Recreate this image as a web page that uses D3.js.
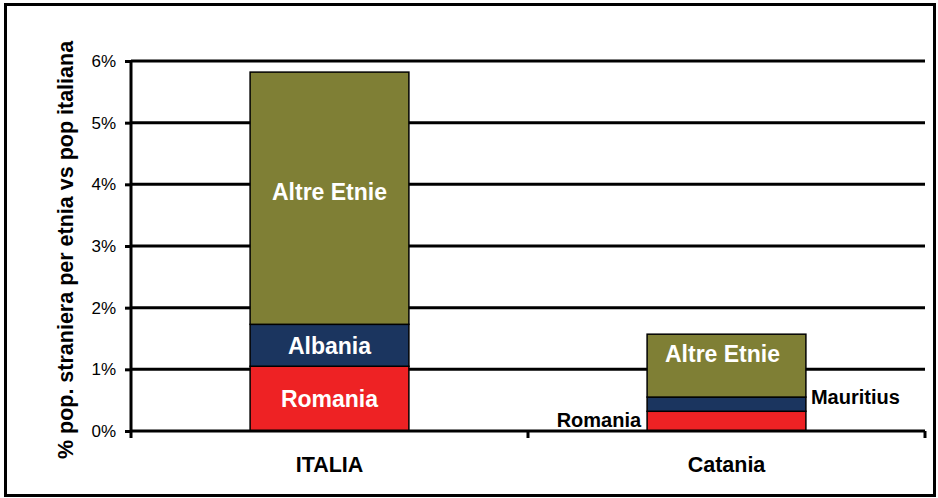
<!DOCTYPE html>
<html>
<head>
<meta charset="utf-8">
<script src="https://cdn.jsdelivr.net/npm/d3@7"></script>
<style>
  body { margin: 0; background: #fff; }
  svg { display: block; font-family: "Liberation Sans", Arial, sans-serif; }
</style>
</head>
<body>
<div id="chart"></div>
<script>
// data (percent)
const categories = ["ITALIA", "Catania"];
const seriesNames = ["Romania", "Albania/Mauritius", "Altre Etnie"];
const romania = [1.05, 0.32];
const secondGroup = [0.68, 0.23];   // Albania for Italia, Mauritius for Catania
const altre = [4.09, 1.02];
const yTicks = [0, 1, 2, 3, 4, 5, 6];
const colors = ["#ee2224", "#1b355f", "#7f7f35"];

const width = 938, height = 498;
const margin = { top: 61, right: 13, bottom: 67, left: 131 };

const svg = d3.select("#chart").append("svg")
  .attr("width", width)
  .attr("height", height);

// outer frame
svg.append("rect")
  .attr("x", 5.5).attr("y", 4.5)
  .attr("width", 929).attr("height", 491)
  .attr("fill", "none")
  .attr("stroke", "#000")
  .attr("stroke-width", 3);

const x = d3.scaleBand()
  .domain(categories)
  .range([margin.left, width - margin.right])
  .paddingInner(0.6)
  .paddingOuter(0.3);

const y = d3.scaleLinear()
  .domain([0, 6])
  .range([height - margin.bottom, margin.top]);

// stack the series
const rows = categories.map((c, i) => ({
  cat: c, s0: romania[i], s1: secondGroup[i], s2: altre[i]
}));
const stack = d3.stack().keys(["s0", "s1", "s2"]);
const stacked = stack(rows);

// grid lines
svg.append("g")
  .selectAll("line")
  .data(yTicks.filter(d => d > 0))
  .join("line")
  .attr("x1", margin.left)
  .attr("x2", width - margin.right)
  .attr("y1", d => y(d))
  .attr("y2", d => y(d))
  .attr("stroke", "#000")
  .attr("stroke-width", 3);

// bars
svg.append("g")
  .selectAll("g")
  .data(stacked)
  .join("g")
  .attr("fill", (d, i) => colors[i])
  .selectAll("rect")
  .data(d => d)
  .join("rect")
  .attr("x", d => x(d.data.cat))
  .attr("width", x.bandwidth())
  .attr("y", d => y(d[1]))
  .attr("height", d => y(d[0]) - y(d[1]))
  .attr("stroke", "#000")
  .attr("stroke-width", 1.5);

// y axis
const yAxis = svg.append("g")
  .attr("transform", `translate(${margin.left},0)`)
  .call(d3.axisLeft(y).tickValues(yTicks).tickFormat(d => d + "%").tickSize(6).tickPadding(9));
yAxis.select(".domain").attr("stroke-width", 3).attr("d", `M0,${y(6)}V${y(0) + 7}`);
yAxis.selectAll(".tick line").attr("stroke-width", 3);
yAxis.selectAll(".tick text")
  .attr("font-size", 17)
  .attr("fill", "#000")
  .attr("font-family", "Liberation Sans, Arial, sans-serif");

// x axis
const xAxis = svg.append("g")
  .attr("transform", `translate(0,${y(0)})`);
xAxis.append("line")
  .attr("x1", margin.left).attr("x2", width - margin.right)
  .attr("stroke", "#000").attr("stroke-width", 3);
const step = x.step();
const bounds = [x(categories[0]) - x.step() * x.paddingInner() / 2 + step, width - margin.right];
xAxis.selectAll(".sep")
  .data(bounds)
  .join("line")
  .attr("x1", d => d).attr("x2", d => d)
  .attr("y1", 0).attr("y2", 7)
  .attr("stroke", "#000").attr("stroke-width", 3);
xAxis.selectAll(".cat")
  .data(categories)
  .join("text")
  .attr("x", d => x(d) + x.bandwidth() / 2)
  .attr("y", 41)
  .attr("text-anchor", "middle")
  .attr("font-size", 21.5)
  .attr("font-weight", "bold")
  .text(d => d);

// y axis title
svg.append("text")
  .attr("transform", `translate(73,250) rotate(-90)`)
  .attr("text-anchor", "middle")
  .attr("font-size", 21.5)
  .attr("font-weight", "bold")
  .text("% pop. straniera per etnia vs pop italiana");

// labels inside bars
const it = categories[0], ct = categories[1];
const cx = c => x(c) + x.bandwidth() / 2;
const inside = [
  { c: it, v: romania[0] / 2, t: "Romania" },
  { c: it, v: romania[0] + secondGroup[0] / 2, t: "Albania" },
  { c: it, v: romania[0] + secondGroup[0] + 2.15, t: "Altre Etnie" },
  { c: ct, v: romania[1] + secondGroup[1] + 0.7, t: "Altre Etnie" }
];
svg.append("g")
  .selectAll("text")
  .data(inside)
  .join("text")
  .attr("x", d => cx(d.c) - (d.c === ct ? 4 : 0))
  .attr("y", d => y(d.v))
  .attr("dy", "0.36em")
  .attr("text-anchor", "middle")
  .attr("fill", "#fff")
  .attr("font-size", 23)
  .attr("font-weight", "bold")
  .text(d => d.t);

// outside labels for Catania
svg.append("text")
  .attr("x", x(ct) - 6)
  .attr("y", y(romania[1] / 2) - 1)
  .attr("dy", "0.36em")
  .attr("text-anchor", "end")
  .attr("font-size", 20)
  .attr("font-weight", "bold")
  .text("Romania");
svg.append("text")
  .attr("x", x(ct) + x.bandwidth() + 5)
  .attr("y", y(romania[1] + secondGroup[1]))
  .attr("dy", "0.36em")
  .attr("text-anchor", "start")
  .attr("font-size", 20)
  .attr("font-weight", "bold")
  .text("Mauritius");
</script>
</body>
</html>
